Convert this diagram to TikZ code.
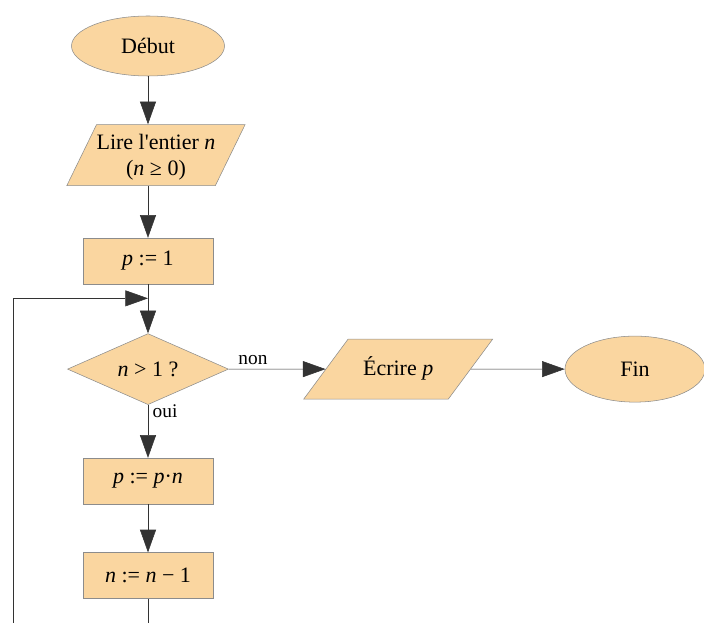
\documentclass[tikz,border=0pt]{standalone}
\usepackage{fontspec}
\setmainfont{Liberation Serif}
\usetikzlibrary{positioning, arrows.meta, shapes.geometric}

\definecolor{boxfill}{RGB}{250,214,160}
\definecolor{boxline}{RGB}{140,140,140}

\begin{document}
\begin{tikzpicture}[
		every node/.style={font=\fontsize{16.5}{19.5}\selectfont},
		term/.style={ellipse, draw=boxline, fill=boxfill, inner sep=0pt},
		io/.style={trapezium, trapezium stretches body, draw=boxline, fill=boxfill, inner xsep=0pt, inner ysep=0pt, align=center},
		action/.style={rectangle, draw=boxline, fill=boxfill, inner sep=0pt, minimum width=97.5pt, minimum height=34.5pt},
		decision/.style={diamond, aspect=2.27, draw=boxline, fill=boxfill, inner sep=0pt, minimum width=120.75pt, minimum height=53.25pt},
		lbl/.style={font=\fontsize{14.5}{17}\selectfont},
		>={Triangle[length=17pt, width=12pt]}
	]

	\useasboundingbox (0,0) rectangle (528pt,-467.25pt);

	\node[term, minimum width=114.75pt, minimum height=45pt] (debut) at (111pt,-34.5pt) {Début};
	\node[io, trapezium left angle=64, trapezium right angle=116, minimum width=130.5pt, text height=38pt, text depth=7.75pt, below=36pt of debut, xshift=6pt] (lire) {Lire l\textquotesingle entier \textit{n}\\(\textit{n} ≥ 0)};
	\node[action, below=39pt of lire, xshift=-6pt] (init) {\textit{p} := 1};
	\node[decision, below=36.75pt of init] (cond) {\textit{n} > 1 ?};
	\node[action, below=39.75pt of cond] (mult) {\textit{p} := \textit{p}·\textit{n}};
	\node[action, below=36pt of mult] (decr) {\textit{n} := \textit{n} − 1};
	\node[io, trapezium left angle=53.5, trapezium right angle=126.5, minimum width=141.75pt, text height=27.5pt, text depth=17.5pt, right=72.6pt of cond, anchor=left side] (ecrire) {Écrire \textit{p}};
	\node[term, minimum width=105pt, minimum height=49.5pt, right=70.4pt of ecrire.right side] (fin) {Fin};

	\coordinate[below=10.5pt of init.south] (join);
	\coordinate[left=101.25pt of join] (back);

	% vertical flow
	\draw[->, black!80] (debut) -- (debut |- lire.top side);
	\draw[->, black!80] (init |- lire.bottom side) -- (init);
	\foreach \i/\j in {init/cond, mult/decr, ecrire/fin}
		\draw[->, black!80] (\i) -- (\j);

	\draw[->, black!80] (cond) -- node[lbl, above, pos=0.25, black] {non} (ecrire);
	\draw[->, black!80] (cond) -- node[lbl, right, pos=0.12, black] {oui} (mult);

	% loop back above the test
	\draw[->, black!80] (decr.south) -- ++(0,-40pt) -| (back) -- (join);

\end{tikzpicture}
\end{document}
